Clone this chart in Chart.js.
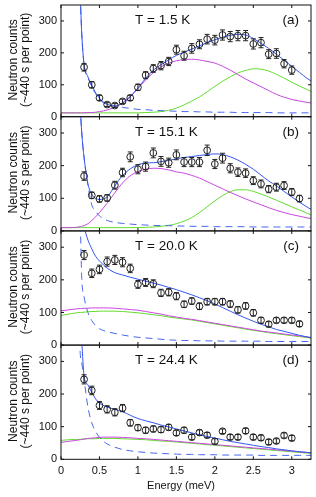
<!DOCTYPE html>
<html>
<head>
<meta charset="utf-8">
<title>Neutron counts vs energy</title>
<script src="https://cdn.jsdelivr.net/npm/chart.js@4.4.1/dist/chart.umd.min.js"></script>
<style>
  body { margin: 0; background: #fff; }
  #fig { position: relative; width: 316px; height: 497px; }
  #fig canvas { position: absolute; left: 0; top: 0; }
</style>
</head>
<body>
<div id="fig">
  <canvas id="graf-a" width="316" height="497"></canvas>
  <canvas id="graf-b" width="316" height="497"></canvas>
  <canvas id="graf-c" width="316" height="497"></canvas>
  <canvas id="graf-d" width="316" height="497"></canvas>
</div>
<script>
// Eixos
const xTicks = [0, 0.5, 1, 1.5, 2, 2.5, 3];
const yTicks = [0, 100, 200, 300];
const temperaturas = ['T = 1.5 K', 'T = 15.1 K', 'T = 20.0 K', 'T = 24.4 K'];
const letras = ['(a)', '(b)', '(c)', '(d)'];

// Pontos medidos (meV)
const energiaA = [0.3,0.4,0.5,0.6,0.7,0.8,0.9,1.0,1.1,1.2,1.3,1.4,1.5,1.6,1.7,1.8,1.9,2.0,2.1,2.2,2.3,2.4,2.5,2.6,2.7,2.8,2.9,3.0];
const energiaB = [0.3,0.4,0.5,0.6,0.7,0.8,0.9,1.0,1.1,1.2,1.3,1.4,1.5,1.6,1.7,1.8,1.9,2.0,2.1,2.2,2.3,2.4,2.5,2.6,2.7,2.8,2.9,3.0,3.1];
const energiaC = [0.3,0.4,0.5,0.6,0.7,0.8,0.9,1.0,1.1,1.2,1.3,1.4,1.5,1.6,1.7,1.8,1.9,2.0,2.1,2.2,2.3,2.4,2.5,2.6,2.7,2.8,2.9,3.0,3.1];
const energiaD = [0.3,0.4,0.5,0.6,0.7,0.8,0.9,1.0,1.1,1.2,1.3,1.4,1.5,1.6,1.7,1.8,1.9,2.0,2.1,2.2,2.3,2.4,2.5,2.6,2.7,2.8,2.9,3.0];

const contagensA = [155,100,59,38,35,48,59,92,130,151,160,173,210,191,214,227,243,240,256,251,254,254,228,232,196,198,166,146];
const contagensB = [168,109,98,101,140,179,227,189,197,239,213,209,233,211,211,211,247,205,223,192,180,177,154,144,128,134,139,119,99];
const contagensC = [276,220,232,256,261,254,235,186,192,188,160,162,150,125,135,119,133,133,133,126,108,120,99,76,64,76,76,76,65];
const contagensD = [245,211,165,153,144,157,112,97,89,93,91,98,81,89,68,82,74,55,86,68,68,87,68,66,53,56,73,65];

const errosA = [12,10,8,6,6,7,8,10,11,12,13,13,14,14,15,14,15,15,16,16,16,16,16,16,14,15,13,13];
const errosB = [13,10,10,10,12,13,15,14,14,15,15,14,15,14,14,14,16,14,15,14,13,13,12,12,11,12,12,11,10];
const errosC = [14,13,13,14,14,14,13,12,12,12,11,11,11,10,10,10,10,10,10,10,10,10,10,9,8,8,8,8,8];
const errosD = [14,13,12,11,11,11,10,9,9,9,9,9,8,9,8,8,8,8,7,8,8,8,8,8,8,7,8,8];

// Curvas do ajuste
const energiaCurva = [0,0.1,0.2,0.25,0.27,0.3,0.35,0.4,0.45,0.5,0.55,0.6,0.7,0.8,0.9,1.0,1.1,1.2,1.3,1.4,1.5,1.6,1.7,1.8,1.9,2.0,2.1,2.2,2.3,2.4,2.5,2.6,2.7,2.8,2.9,3.0,3.1,3.2,3.25];

const totalA = [null,null,null,380,260,165,125,98,75,58,46,39,34,42,62,90,120,146,163,178,192,202,212,222,232,241,249,255,258,256,245,230,214,196,177,158,139,120,112];
const magentaA = [12,12,12,12,12,12,13,13,14,16,18,21,30,44,64,88,115,138,156,168,175,179,180,178,173,168,158,146,132,118,106,94,82,70,61,54,49,45,43];
const verdeA = [12,12,12,12,12,12,12,12,12,12,12,12,12,12,12,12,13,14,16,20,27,37,49,62,78,95,111,125,137,145,150,149,143,133,121,108,96,85,79];
const tracejadaA = [null,null,null,380,258,162,122,95,72,55,44,37,32,29,26,23,22,20,19,18,17,16,16,15,15,14,14,14,13,13,13,13,13,12,12,12,12,12,12];

const totalB = [null,null,null,380,300,225,145,112,100,96,98,104,138,170,190,203,208,209,212,216,221,225,228,231,234,236,234,227,217,204,189,171,153,138,121,104,88,73,66];
const magentaB = [10,10,11,13,14,16,22,32,43,56,70,85,117,147,169,182,189,192,191,187,181,177,170,162,151,140,129,118,108,98,89,80,71,63,56,50,45,40,38];
const verdeB = [10,10,10,10,10,10,10,10,10,10,10,10,10,10,10,10,11,12,14,17,22,30,41,56,74,92,108,120,126,126,121,113,104,94,84,74,64,54,49];
const tracejadaB = [null,null,null,380,300,225,140,80,60,46,38,32,26,23,21,19,18,17,16,16,15,15,14,14,14,13,13,13,13,13,12,12,12,12,12,12,12,12,12];

const totalC = [null,null,null,null,null,360,322,295,272,258,246,236,222,215,208,202,196,190,184,177,170,162,154,145,136,126,115,104,93,83,73,64,56,48,42,36,30,25,23];
const magentaC = [105,108,111,112,112,113,113,114,114,114,114,114,113,111,109,107,103,99,95,90,86,82,79,75,71,67,63,59,55,51,47,43,40,37,34,31,28,25,23];
const verdeC = [91,95,99,100,100,101,102,103,103,104,104,104,104,103,101,99,96,93,90,86,83,80,77,73,69,65,61,57,53,49,45,42,38,35,32,29,26,23,21];
const tracejadaC = [null,null,700,380,205,148,100,75,60,50,45,41,36,31,27,24,22,20,18,16,15,14,14,13,13,13,12,12,12,12,12,12,11,11,11,11,11,11,11];

const totalD = [null,null,null,null,360,255,228,205,185,172,165,160,153,146,135,125,118,112,105,99,93,87,81,75,70,65,60,55,51,47,43,39,36,32,29,26,23,21,20];
const magentaD = [52,55,58,60,61,62,64,65,66,67,68,68,68,67,66,64,63,61,59,57,55,53,51,49,47,45,43,41,39,37,35,33,31,29,27,25,23,21,20];
const verdeD = [58,60,61,61,62,62,63,63,63,64,64,64,64,63,62,61,60,58,56,55,53,51,49,47,45,43,41,39,37,35,33,31,29,27,25,23,21,19,18];
const tracejadaD = [null,null,700,325,295,245,160,112,85,68,56,47,37,30,26,23,21,19,18,17,16,15,15,14,14,14,13,13,13,13,13,12,12,12,12,12,12,12,12];

document.addEventListener('DOMContentLoaded', function() {
    const FONTE = '"Liberation Sans", Arial, sans-serif';
    const TOPOS = [2.5, 116.7, 230.9, 345.1];
    const ALTURA = 114.2;
    const ESQ = 61, DIR = 312, LARG = 316, ALT = 497;

    Chart.defaults.font.family = FONTE;
    Chart.defaults.color = '#111';

    const paineis = [
        { id: 'graf-a', energia: energiaA, contagens: contagensA, erros: errosA, total: totalA, magenta: magentaA, verde: verdeA, tracejada: tracejadaA },
        { id: 'graf-b', energia: energiaB, contagens: contagensB, erros: errosB, total: totalB, magenta: magentaB, verde: verdeB, tracejada: tracejadaB },
        { id: 'graf-c', energia: energiaC, contagens: contagensC, erros: errosC, total: totalC, magenta: magentaC, verde: verdeC, tracejada: tracejadaC },
        { id: 'graf-d', energia: energiaD, contagens: contagensD, erros: errosD, total: totalD, magenta: magentaD, verde: verdeD, tracejada: tracejadaD }
    ];

    // Barras de erro, moldura, ticks internos e textos
    const molduraPlugin = {
        id: 'moldura',
        afterDatasetsDraw(chart, args, opts) {
            const ctx = chart.ctx;
            const a = chart.chartArea;
            const x = chart.scales.x, y = chart.scales.y;
            ctx.save();
            ctx.beginPath();
            ctx.rect(a.left, a.top, a.right - a.left, a.bottom - a.top);
            ctx.clip();
            ctx.strokeStyle = '#222';
            ctx.lineWidth = 1;
            opts.energia.forEach((e, i) => {
                const px = x.getPixelForValue(e);
                const y1 = y.getPixelForValue(opts.contagens[i] - opts.erros[i]);
                const y2 = y.getPixelForValue(opts.contagens[i] + opts.erros[i]);
                ctx.beginPath();
                ctx.moveTo(px, y1); ctx.lineTo(px, y2);
                ctx.moveTo(px - 2.5, y1); ctx.lineTo(px + 2.5, y1);
                ctx.moveTo(px - 2.5, y2); ctx.lineTo(px + 2.5, y2);
                ctx.stroke();
            });
            ctx.restore();
        },
        afterDraw(chart, args, opts) {
            const ctx = chart.ctx;
            const a = chart.chartArea;
            const x = chart.scales.x, y = chart.scales.y;
            ctx.save();
            ctx.strokeStyle = '#111';
            ctx.lineWidth = 1;
            ctx.strokeRect(a.left, a.top, a.right - a.left, a.bottom - a.top);
            ctx.beginPath();
            xTicks.forEach(v => {
                const px = x.getPixelForValue(v);
                ctx.moveTo(px, a.bottom); ctx.lineTo(px, a.bottom - 3);
                ctx.moveTo(px, a.top); ctx.lineTo(px, a.top + 3);
            });
            yTicks.forEach(v => {
                const py = y.getPixelForValue(v);
                ctx.moveTo(a.left, py); ctx.lineTo(a.left + 3, py);
                ctx.moveTo(a.right, py); ctx.lineTo(a.right - 3, py);
            });
            ctx.stroke();

            ctx.fillStyle = '#111';
            ctx.font = '13.5px ' + FONTE;
            ctx.textBaseline = 'alphabetic';
            ctx.textAlign = 'left';
            ctx.fillText(opts.temp, a.left + 74, a.top + 19);
            ctx.textAlign = 'right';
            ctx.fillText(opts.letra, a.right - 12, a.top + 19);

            // titulo do eixo y, duas linhas
            const cy = (a.top + a.bottom) / 2 - 1;
            ctx.font = '12px ' + FONTE;
            ctx.textAlign = 'center';
            [['Neutron counts', 16.5], ['(~440 s per point)', 29.3]].forEach(([txt, bx]) => {
                ctx.save();
                ctx.translate(bx, cy);
                ctx.rotate(-Math.PI / 2);
                ctx.fillText(txt, 0, 0);
                ctx.restore();
            });

            if (opts.ultimo) {
                ctx.font = '11px ' + FONTE;
                ctx.textAlign = 'center';
                ctx.fillText('Energy (meV)', 181, 489.3);
            }
            ctx.restore();
        }
    };

    function curva(valores, cor, tracejado, ordem) {
        return {
            type: 'line',
            data: energiaCurva.map((e, i) => ({ x: e, y: valores[i] })),
            borderColor: cor,
            borderWidth: 1,
            borderDash: tracejado ? [7, 5] : [],
            pointRadius: 0,
            fill: false,
            spanGaps: false,
            cubicInterpolationMode: 'monotone',
            clip: 0,
            order: ordem
        };
    }

    function criarPainel(p, idx) {
        const topo = TOPOS[idx];
        const base = topo + ALTURA;
        const ultimo = idx === 3;

        return new Chart(document.getElementById(p.id), {
            type: 'scatter',
            data: {
                datasets: [
                    {
                        data: p.energia.map((e, i) => ({ x: e, y: p.contagens[i] })),
                        pointStyle: 'circle',
                        pointRadius: 3.4,
                        pointBorderWidth: 1,
                        pointBorderColor: '#222',
                        pointBackgroundColor: 'rgba(0,0,0,0)',
                        showLine: false,
                        clip: 0,
                        order: 0
                    },
                    curva(p.total, '#3556ee', false, 1),
                    curva(p.tracejada, '#4767f0', true, 2),
                    curva(p.magenta, '#c848e0', false, 3),
                    curva(p.verde, '#62dc2c', false, 4)
                ]
            },
            options: {
                responsive: false,
                animation: false,
                events: [],
                layout: {
                    padding: { left: 0, right: LARG - DIR, top: topo, bottom: ultimo ? 0 : ALT - base }
                },
                plugins: {
                    legend: { display: false },
                    tooltip: { enabled: false },
                    moldura: {
                        energia: p.energia, contagens: p.contagens, erros: p.erros,
                        temp: temperaturas[idx], letra: letras[idx], ultimo: ultimo
                    }
                },
                scales: {
                    x: {
                        type: 'linear',
                        min: 0,
                        max: 3.25,
                        display: ultimo,
                        afterBuildTicks: s => { s.ticks = xTicks.map(v => ({ value: v })); },
                        afterFit: s => {
                            if (ultimo) s.height = ALT - base;
                            s.paddingLeft = 0; s.paddingRight = 0;
                        },
                        grid: { display: false, drawTicks: false },
                        border: { display: false },
                        ticks: {
                            padding: 5,
                            maxRotation: 0,
                            autoSkip: false,
                            font: { size: 11 },
                            callback: v => String(v)
                        }
                    },
                    y: {
                        type: 'linear',
                        min: 0,
                        max: 350,
                        afterBuildTicks: s => { s.ticks = yTicks.map(v => ({ value: v })); },
                        afterFit: s => {
                            s.width = ESQ;
                            s.paddingTop = 0; s.paddingBottom = 0;
                        },
                        grid: { display: false, drawTicks: false },
                        border: { display: false },
                        ticks: { padding: 4, font: { size: 11 } }
                    }
                }
            },
            plugins: [molduraPlugin]
        });
    }

    paineis.forEach(criarPainel);
});
</script>
</body>
</html>
